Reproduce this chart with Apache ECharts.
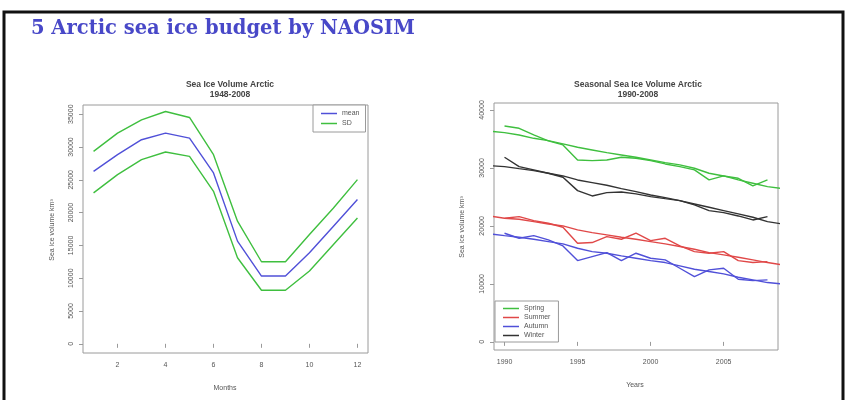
<!DOCTYPE html>
<html>
<head>
<meta charset="utf-8">
<style>
  html, body { margin: 0; padding: 0; background: #fff; }
  #chart { width: 848px; height: 400px; }
</style>
<script src="https://cdn.jsdelivr.net/npm/echarts@6/dist/echarts.min.js"></script>
</head>
<body>
<div id="chart"></div>
<script>
// Mean seasonal cycle of Arctic sea ice volume (km^3) with +/- one standard deviation
const months = [1, 2, 3, 4, 5, 6, 7, 8, 9, 10, 11, 12];
const meanVol = [26290, 28830, 31110, 32110, 31350, 26040, 15650, 10330, 10330, 13880, 17930, 21990];
const sdUpper = [29330, 32110, 34140, 35410, 34500, 28830, 18690, 12510, 12510, 16670, 20710, 25030];
const sdLower = [23000, 25790, 28070, 29230, 28570, 23250, 13120, 8160, 8160, 11090, 15150, 19190];
const monthTicks = [2, 4, 6, 8, 10, 12];
const volTicksLeft = [0, 5000, 10000, 15000, 20000, 25000, 30000, 35000];

// Seasonal sea ice volume, yearly values and smoothed curves
const years = [1990, 1991, 1992, 1993, 1994, 1995, 1996, 1997, 1998, 1999, 2000, 2001, 2002, 2003, 2004, 2005, 2006, 2007, 2008];
const smoothYears = [1989, 1990, 1991, 1992, 1993, 1994, 1995, 1996, 1997, 1998, 1999, 2000, 2001, 2002, 2003, 2004, 2005, 2006, 2007, 2008, 2009];
const spring = [37240, 36840, 35690, 34660, 33970, 31380, 31260, 31380, 31840, 31670, 31260, 30690, 30230, 29660, 27930, 28620, 28220, 26900, 27930];
const springSmooth = [36320, 36090, 35690, 35110, 34710, 34140, 33560, 33100, 32640, 32240, 31840, 31380, 30920, 30520, 29940, 29080, 28620, 27930, 27360, 26780, 26440];
const summer = [21320, 21610, 20920, 20460, 19770, 17010, 17130, 18160, 17700, 18740, 17470, 17870, 16550, 15570, 15290, 15570, 14020, 13680, 13850];
const summerSmooth = [21720, 21320, 21150, 20750, 20340, 20000, 19310, 18850, 18450, 18050, 17700, 17300, 16900, 16440, 15980, 15400, 15000, 14600, 14140, 13680, 13280];
const autumn = [18740, 17870, 18330, 17590, 16550, 14020, 14710, 15400, 14020, 15290, 14430, 14140, 12700, 11260, 12410, 12700, 10800, 10570, 10690];
const autumnSmooth = [18620, 18330, 18050, 17700, 17300, 16900, 16150, 15570, 15290, 14830, 14430, 14020, 13680, 13100, 12530, 12130, 11720, 11150, 10690, 10230, 10000];
const winter = [31840, 30230, 29660, 29080, 28390, 26090, 25170, 25750, 25860, 25520, 25060, 24710, 24370, 23620, 22640, 22300, 21720, 21030, 21610];
const winterSmooth = [30400, 30230, 29880, 29540, 29080, 28620, 27930, 27470, 27010, 26440, 25920, 25340, 24880, 24370, 23790, 23220, 22640, 22070, 21490, 20750, 20340];
const yearTicks = [1990, 1995, 2000, 2005];
const volTicksRight = [0, 10000, 20000, 30000, 40000];

const pairs = (xs, ys) => xs.map((x, i) => [x, ys[i]]);
const plain = v => String(v);

const GREEN = '#3fbf3f';
const BLUE = '#5050d8';
const RED = '#e04848';
const BLACK = '#333333';
const AXIS = '#9a9a9a';
const TXT = '#555';

function xAxisOf(gridIndex, min, max, ticks) {
  return {
    type: 'value', gridIndex, min, max,
    axisLine: { show: false },
    splitLine: { show: false },
    axisTick: { show: true, inside: false, length: 4, customValues: ticks, lineStyle: { color: AXIS } },
    axisLabel: { customValues: ticks, formatter: plain, color: TXT, fontSize: 7, margin: 9, fontFamily: 'Liberation Sans' }
  };
}
function yAxisOf(gridIndex, min, max, ticks) {
  return {
    type: 'value', gridIndex, min, max,
    axisLine: { show: false },
    splitLine: { show: false },
    axisTick: { show: true, inside: false, length: 4, customValues: ticks, lineStyle: { color: AXIS } },
    axisLabel: { customValues: ticks, formatter: plain, color: TXT, fontSize: 7, rotate: 90, margin: 8, fontFamily: 'Liberation Sans' }
  };
}
function line(name, xi, yi, data, color) {
  return {
    name, type: 'line', xAxisIndex: xi, yAxisIndex: yi, data,
    symbol: 'none', clip: true, silent: true,
    lineStyle: { color, width: 1.4 }, itemStyle: { color }
  };
}

const chart = echarts.init(document.getElementById('chart'), null, { renderer: 'canvas' });
chart.setOption({
  backgroundColor: '#ffffff',
  animation: false,
  grid: [
    { left: 83, top: 105, width: 285, height: 248, show: true, borderColor: AXIS, borderWidth: 1, backgroundColor: 'transparent' },
    { left: 494, top: 103, width: 284, height: 247, show: true, borderColor: AXIS, borderWidth: 1, backgroundColor: 'transparent' }
  ],
  xAxis: [
    xAxisOf(0, 0.56, 12.44, monthTicks),
    xAxisOf(1, 1989.28, 2008.72, yearTicks)
  ],
  yAxis: [
    yAxisOf(0, -1400, 36400, volTicksLeft),
    yAxisOf(1, -1400, 41200, volTicksRight)
  ],
  legend: [
    {
      left: 313, top: 105, orient: 'vertical', itemGap: 3, padding: [5, 6, 5, 8],
      borderColor: AXIS, borderWidth: 1, backgroundColor: '#fff',
      icon: 'rect', itemWidth: 16, itemHeight: 1.5,
      textStyle: { color: TXT, fontSize: 7, fontFamily: 'Liberation Sans' },
      data: ['mean', 'SD'], selectedMode: false
    },
    {
      left: 495, top: 301, orient: 'vertical', itemGap: 2, padding: [4, 8, 3, 8],
      borderColor: AXIS, borderWidth: 1, backgroundColor: '#fff',
      icon: 'rect', itemWidth: 16, itemHeight: 1.5,
      textStyle: { color: TXT, fontSize: 7, fontFamily: 'Liberation Sans' },
      data: ['Spring', 'Summer', 'Autumn', 'Winter'], selectedMode: false
    }
  ],
  title: [
    {
      text: 'Sea Ice Volume Arctic\n1948-2008', left: 225, top: 75, textAlign: 'center',
      textStyle: { fontSize: 8.5, fontWeight: 'bold', color: '#444', lineHeight: 10, fontFamily: 'Liberation Sans' }
    },
    {
      text: 'Seasonal Sea Ice Volume Arctic\n1990-2008', left: 633, top: 75, textAlign: 'center',
      textStyle: { fontSize: 8.5, fontWeight: 'bold', color: '#444', lineHeight: 10, fontFamily: 'Liberation Sans' }
    }
  ],
  graphic: [
    { type: 'rect', shape: { x: 4, y: 12, width: 839, height: 400 }, style: { fill: 'none', stroke: '#111', lineWidth: 3 }, silent: true },
    { type: 'text', x: 31, y: 29, style: { text: '5 Arctic sea ice budget by NAOSIM', font: 'bold 19.5px "DejaVu Serif"', fill: '#4848c8', textVerticalAlign: 'middle' } },
    { type: 'text', x: 52, y: 230, rotation: Math.PI / 2, style: { text: 'Sea ice volume km³', font: '7px "Liberation Sans"', fill: TXT, textAlign: 'center', textVerticalAlign: 'middle' } },
    { type: 'text', x: 462, y: 227, rotation: Math.PI / 2, style: { text: 'Sea ice volume km³', font: '7px "Liberation Sans"', fill: TXT, textAlign: 'center', textVerticalAlign: 'middle' } },
    { type: 'text', x: 225, y: 388, style: { text: 'Months', font: '7px "Liberation Sans"', fill: TXT, textAlign: 'center', textVerticalAlign: 'middle' } },
    { type: 'text', x: 635, y: 385, style: { text: 'Years', font: '7px "Liberation Sans"', fill: TXT, textAlign: 'center', textVerticalAlign: 'middle' } }
  ],
  series: [
    line('mean', 0, 0, pairs(months, meanVol), BLUE),
    line('SD', 0, 0, pairs(months, sdUpper), GREEN),
    line('SD', 0, 0, pairs(months, sdLower), GREEN),
    line('Spring', 1, 1, pairs(years, spring), GREEN),
    line('Spring', 1, 1, pairs(smoothYears, springSmooth), GREEN),
    line('Summer', 1, 1, pairs(years, summer), RED),
    line('Summer', 1, 1, pairs(smoothYears, summerSmooth), RED),
    line('Autumn', 1, 1, pairs(years, autumn), BLUE),
    line('Autumn', 1, 1, pairs(smoothYears, autumnSmooth), BLUE),
    line('Winter', 1, 1, pairs(years, winter), BLACK),
    line('Winter', 1, 1, pairs(smoothYears, winterSmooth), BLACK)
  ]
});
</script>
</body>
</html>
